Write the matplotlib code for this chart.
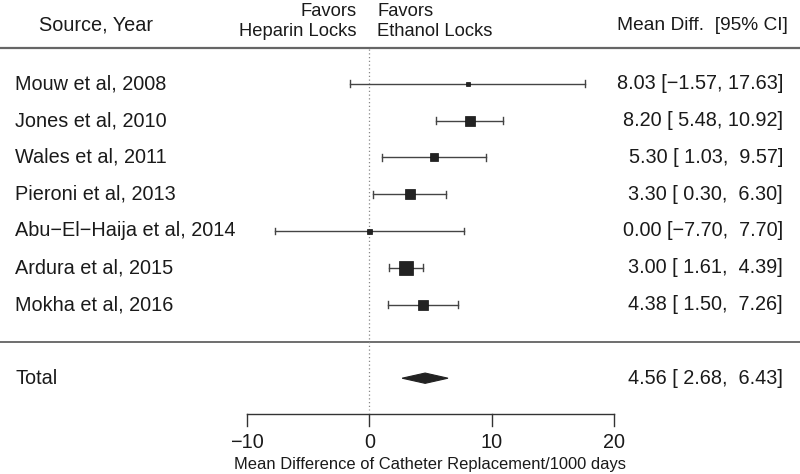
import matplotlib
matplotlib.use("Agg")
import matplotlib.pyplot as plt
from matplotlib.patches import Polygon

plt.rcParams['font.family'] = ['Liberation Sans', 'DejaVu Sans']

studies = ["Mouw et al, 2008", "Jones et al, 2010", "Wales et al, 2011",
           "Pieroni et al, 2013", "Abu\u2212El\u2212Haija et al, 2014",
           "Ardura et al, 2015", "Mokha et al, 2016"]
mean_diff = [8.03, 8.20, 5.30, 3.30, 0.00, 3.00, 4.38]
ci_low = [-1.57, 5.48, 1.03, 0.30, -7.70, 1.61, 1.50]
ci_high = [17.63, 10.92, 9.57, 6.30, 7.70, 4.39, 7.26]
total_label = "Total"
total_mean = 4.56
total_low = 2.68
total_high = 6.43
xticks = [-10, 0, 10, 20]
xlabel = "Mean Difference of Catheter Replacement/1000 days"

marker_sizes = [3.2, 7.6, 5.8, 7.0, 3.6, 9.4, 7.7]

W, H = 800, 474
fig = plt.figure(figsize=(W / 100, H / 100), dpi=100)
ax = fig.add_axes([0, 0, 1, 1])
ax.axis('off')

# pixel mapping: x=-10 -> 247px, x=20 -> 614px ; row 0 -> 47px, step 36.8px
ppu = (614 - 247) / 30.0
x_left = -10 - 247 / ppu
x_right = 20 + (W - 614) / ppu
row0, step = 47.0, 36.8
ax.set_xlim(x_left, x_right)
ax.set_ylim((H - row0) / step, -row0 / step)

def py(p):
    return (p - row0) / step

col = '#1a1a1a'
line_col = '#444444'
fs = 14.3

def fmt(v):
    return f"{v:.2f}".replace('-', '\u2212')

def fmt_ci(m, lo, hi):
    return f"{fmt(m)} [{fmt(lo):>5}, {fmt(hi):>5}]"

# header
ax.text(x_left + 39 / ppu, py(25), "Source, Year", ha='left', va='center', fontsize=fs, color=col)
ax.text(-13 / ppu, py(21.5), "Favors\nHeparin Locks", ha='right', va='center', fontsize=13.2,
        color=col, linespacing=1.2)
ax.text(8 / ppu, py(21.5), "Favors\nEthanol Locks", ha='left', va='center', fontsize=13.2,
        color=col, linespacing=1.2)
ax.text(x_right - 12 / ppu, py(25.5), "Mean Diff.  [95% CI]", ha='right', va='center',
        fontsize=13.8, color=col)

# horizontal separators
ax.plot([x_left, x_right], [py(48), py(48)], color='#666666', lw=1.6, solid_capstyle='butt')
ax.plot([x_left, x_right], [py(342), py(342)], color='#555555', lw=1.2, solid_capstyle='butt')

# zero reference line
ax.plot([0, 0], [py(49), py(410)], color='#888888', lw=0.9, ls=(0, (1, 2)))

cap = 0.09
for i, (name, m, lo, hi, ms) in enumerate(zip(studies, mean_diff, ci_low, ci_high, marker_sizes)):
    y = i + 1
    ax.plot([lo, hi], [y, y], color=line_col, lw=1.0)
    ax.plot([lo, lo], [y - cap, y + cap], color=line_col, lw=1.0)
    ax.plot([hi, hi], [y - cap, y + cap], color=line_col, lw=1.0)
    ax.plot([m], [y], marker='s', ms=ms, color='#222222', mec='#111111', mew=0.5)
    ax.text(x_left + 15 / ppu, y, name, ha='left', va='center', fontsize=fs, color=col)
    ax.text(x_right - 17 / ppu, y, fmt_ci(m, lo, hi), ha='right', va='center', fontsize=fs, color=col)

# total
yt = 9.0
dh = 0.14
diamond = Polygon([[total_low, yt], [total_mean, yt - dh], [total_high, yt], [total_mean, yt + dh]],
                  closed=True, facecolor='#222222', edgecolor='#222222', lw=0.8)
ax.add_patch(diamond)
ax.text(x_left + 15 / ppu, yt, total_label, ha='left', va='center', fontsize=fs, color=col)
ax.text(x_right - 17 / ppu, yt, fmt_ci(total_mean, total_low, total_high), ha='right',
        va='center', fontsize=fs, color=col)

# x axis
ya = py(414)
tick_len = 12 / step
ax.plot([xticks[0], xticks[-1]], [ya, ya], color='#333333', lw=1.0)
for t in xticks:
    ax.plot([t, t], [ya, ya + tick_len], color='#333333', lw=1.0)
    ax.text(t, py(443), f"{t}".replace('-', '\u2212'), ha='center', va='center',
            fontsize=fs, color=col)
ax.text(5, py(464), xlabel, ha='center', va='center', fontsize=11.9, color=col)

fig.savefig("out.png", dpi=100)
